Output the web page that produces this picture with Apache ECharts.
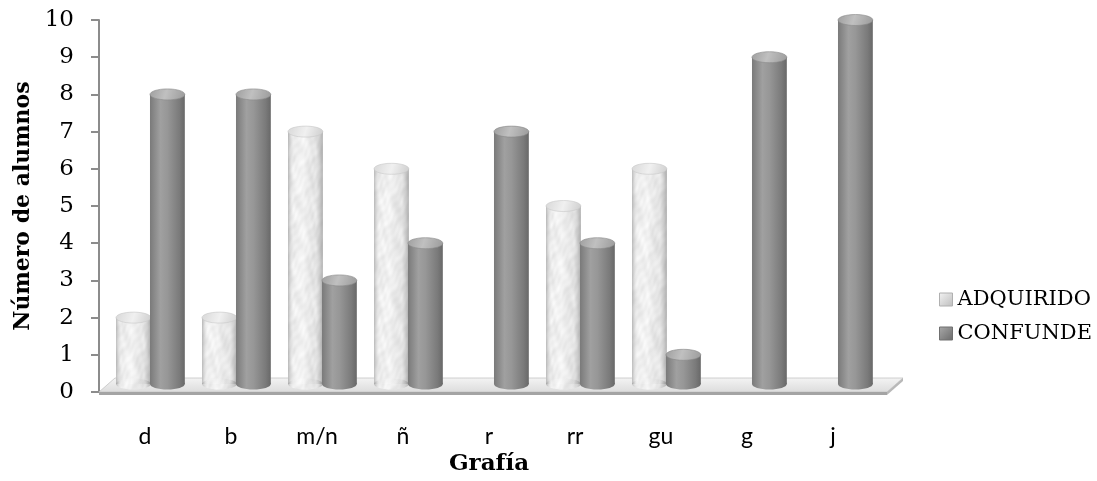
<!DOCTYPE html>
<html>
<head>
<meta charset="utf-8">
<script src="https://cdn.jsdelivr.net/npm/echarts@6/dist/echarts.min.js"></script>
<style>
  html, body { margin: 0; padding: 0; background: #ffffff; }
  #chart { width: 1097px; height: 481px; }
</style>
</head>
<body>
<div id="chart"></div>
<script>
// Letters (grafías) and number of pupils per group
var categories = ['d', 'b', 'm/n', 'ñ', 'r', 'rr', 'gu', 'g', 'j'];
var adquirido = [2, 2, 7, 6, 0, 5, 6, 0, 0];
var confunde = [8, 8, 3, 4, 7, 4, 1, 9, 10];
var seriesNames = ['ADQUIRIDO', 'CONFUNDE'];
var yMin = 0, yMax = 10, yStep = 1;

var SERIF = '"DejaVu Serif", "Liberation Serif", serif';
var SANS = 'Lato, "Open Sans", sans-serif';
var LG = echarts.graphic.LinearGradient;

// Seamless mottled texture for the light cylinders (periodic functions, tiles cleanly)
function marbleCanvas() {
  var w = 48, h = 96, P = Math.PI * 2;
  var c = document.createElement('canvas');
  c.width = w; c.height = h;
  var ctx = c.getContext('2d');
  var img = ctx.createImageData(w, h);
  for (var y = 0; y < h; y++) {
    for (var x = 0; x < w; x++) {
      var u = x / w, v = y / h;
      var t = 0.45 * Math.sin(P * (2 * u + v) + 1.6 * Math.sin(P * 3 * v))
            + 0.3 * Math.sin(P * (5 * u - 3 * v) + Math.sin(P * 2 * u))
            + 0.25 * Math.sin(P * (7 * u + 9 * v) + 1.2 * Math.sin(P * (3 * u - 2 * v)));
      var g = Math.round(237 + 12 * t);
      var k = (y * w + x) * 4;
      img.data[k] = g; img.data[k + 1] = g; img.data[k + 2] = g; img.data[k + 3] = 255;
    }
  }
  ctx.putImageData(img, 0, 0);
  return c;
}
var marble = marbleCanvas();

// Shading per series: horizontal position within the category band and colours
var looks = [
  {
    shift: -0.337,
    body: function () { return { image: marble, repeat: 'repeat' }; },
    shade: function () {
      return new LG(0, 0, 1, 0, [
        { offset: 0, color: 'rgba(140,140,140,0.55)' },
        { offset: 0.18, color: 'rgba(255,255,255,0.05)' },
        { offset: 0.45, color: 'rgba(255,255,255,0.30)' },
        { offset: 0.8, color: 'rgba(170,170,170,0.12)' },
        { offset: 1, color: 'rgba(120,120,120,0.55)' }
      ]);
    },
    top: function () {
      return new LG(0, 0, 1, 1, [
        { offset: 0, color: '#d8d8d8' },
        { offset: 0.5, color: '#f0f0f0' },
        { offset: 1, color: '#cdcdcd' }
      ]);
    },
    edge: '#c8c8c8'
  },
  {
    shift: 0.058,
    body: function () {
      return new LG(0, 0, 1, 0, [
        { offset: 0, color: '#7a7a7a' },
        { offset: 0.3, color: '#a0a0a0' },
        { offset: 0.5, color: '#979797' },
        { offset: 0.85, color: '#7a7a7a' },
        { offset: 1, color: '#686868' }
      ]);
    },
    shade: null,
    top: function () {
      return new LG(0, 0, 1, 1, [
        { offset: 0, color: '#9e9e9e' },
        { offset: 0.45, color: '#c0c0c0' },
        { offset: 1, color: '#9a9a9a' }
      ]);
    },
    edge: '#888888'
  }
];

function cylinderItem(look) {
  return function (params, api) {
    var v = api.value(1);
    if (!v) return null;
    var cat = api.value(0);
    var base = api.coord([cat, yMin]);
    var top = api.coord([cat, v]);
    var band = api.size([1, 0])[0];
    var w = band * 0.405;
    var left = base[0] + band * look.shift;
    var cx = left + w / 2;
    var yb = base[1] - 8;
    var yt = top[1];
    var ry = 5.5;
    var kids = [
      { type: 'ellipse', shape: { cx: cx, cy: yb, rx: w / 2, ry: ry }, style: { fill: look.body() } },
      { type: 'rect', shape: { x: left, y: yt, width: w, height: yb - yt }, style: { fill: look.body() } }
    ];
    if (look.shade) {
      kids.push({ type: 'ellipse', shape: { cx: cx, cy: yb, rx: w / 2, ry: ry }, style: { fill: look.shade() } });
      kids.push({ type: 'rect', shape: { x: left, y: yt, width: w, height: yb - yt }, style: { fill: look.shade() } });
    }
    kids.push({ type: 'ellipse', shape: { cx: cx, cy: yt, rx: w / 2, ry: ry },
      style: { fill: look.top(), stroke: look.edge, lineWidth: 0.6 } });
    return { type: 'group', children: kids };
  };
}

// 3D floor under the bars
function floorItem(params, api) {
  var cs = params.coordSys;
  var yF = cs.y + cs.height;
  var xL = cs.x - 3, xR = cs.x + cs.width + 11;
  var dx = 16, dy = 14;
  return {
    type: 'group',
    children: [
      { type: 'polygon', shape: { points: [[xL, yF], [xR, yF], [xR + dx, yF - dy], [xL + dx, yF - dy]] },
        style: { fill: new LG(0, 0, 0, 1, [{ offset: 0, color: '#f4f4f4' }, { offset: 1, color: '#dcdcdc' }]),
                 stroke: '#c4c4c4', lineWidth: 0.8 } },
      { type: 'polygon', shape: { points: [[xL, yF], [xR, yF], [xR, yF + 3], [xL, yF + 3]] },
        style: { fill: '#a4a4a4' } },
      { type: 'polygon', shape: { points: [[xR, yF], [xR + dx, yF - dy], [xR + dx, yF - dy + 3], [xR, yF + 3]] },
        style: { fill: '#b8b8b8' } }
    ]
  };
}

var chart = echarts.init(document.getElementById('chart'), null, { renderer: 'canvas' });
chart.setOption({
  animation: false,
  backgroundColor: '#ffffff',
  grid: { left: 102, right: 221, top: 20, bottom: 86, containLabel: false },
  legend: {
    orient: 'vertical',
    left: 934,
    top: 284,
    itemWidth: 13,
    itemHeight: 13,
    itemGap: 13,
    itemTextGap: 5,
    icon: 'rect',
    textStyle: { fontFamily: SERIF, fontSize: 21, color: '#000' },
    data: [
      { name: seriesNames[0], itemStyle: { color: new LG(0, 0, 1, 1, [{ offset: 0, color: '#f4f4f4' }, { offset: 1, color: '#bdbdbd' }]), borderColor: '#b0b0b0', borderWidth: 1 } },
      { name: seriesNames[1], itemStyle: { color: new LG(0, 0, 1, 1, [{ offset: 0, color: '#aaaaaa' }, { offset: 1, color: '#6a6a6a' }]), borderColor: '#707070', borderWidth: 1 } }
    ]
  },
  xAxis: {
    type: 'category',
    data: categories,
    name: 'Grafía',
    nameLocation: 'middle',
    nameGap: 61,
    nameTextStyle: { fontFamily: SERIF, fontSize: 23, fontWeight: 'bold', color: '#000' },
    axisLine: { show: false },
    axisTick: { show: false },
    axisLabel: { margin: 33, fontFamily: SANS, fontSize: 23, color: '#000' },
    splitLine: { show: false }
  },
  yAxis: {
    type: 'value',
    min: yMin,
    max: yMax,
    interval: yStep,
    offset: 3,
    name: 'Número de alumnos',
    nameLocation: 'middle',
    nameGap: 57,
    nameRotate: 90,
    nameTextStyle: { fontFamily: SERIF, fontSize: 22, fontWeight: 'bold', color: '#000' },
    axisLine: { show: true, lineStyle: { color: '#8c8c8c', width: 2 } },
    axisTick: { show: true, length: 8, lineStyle: { color: '#8c8c8c', width: 2 } },
    axisLabel: { margin: 25, fontFamily: SERIF, fontSize: 23, color: '#000' },
    splitLine: { show: false }
  },
  series: [
    {
      name: 'suelo',
      type: 'custom',
      renderItem: floorItem,
      data: [[0, 0]],
      silent: true,
      z: 1
    },
    {
      name: seriesNames[0],
      type: 'custom',
      renderItem: cylinderItem(looks[0]),
      encode: { x: 0, y: 1 },
      data: adquirido.map(function (v, i) { return [i, v]; }),
      itemStyle: { color: '#dcdcdc' },
      z: 2
    },
    {
      name: seriesNames[1],
      type: 'custom',
      renderItem: cylinderItem(looks[1]),
      encode: { x: 0, y: 1 },
      data: confunde.map(function (v, i) { return [i, v]; }),
      itemStyle: { color: '#8c8c8c' },
      z: 3
    }
  ]
});
</script>
</body>
</html>
